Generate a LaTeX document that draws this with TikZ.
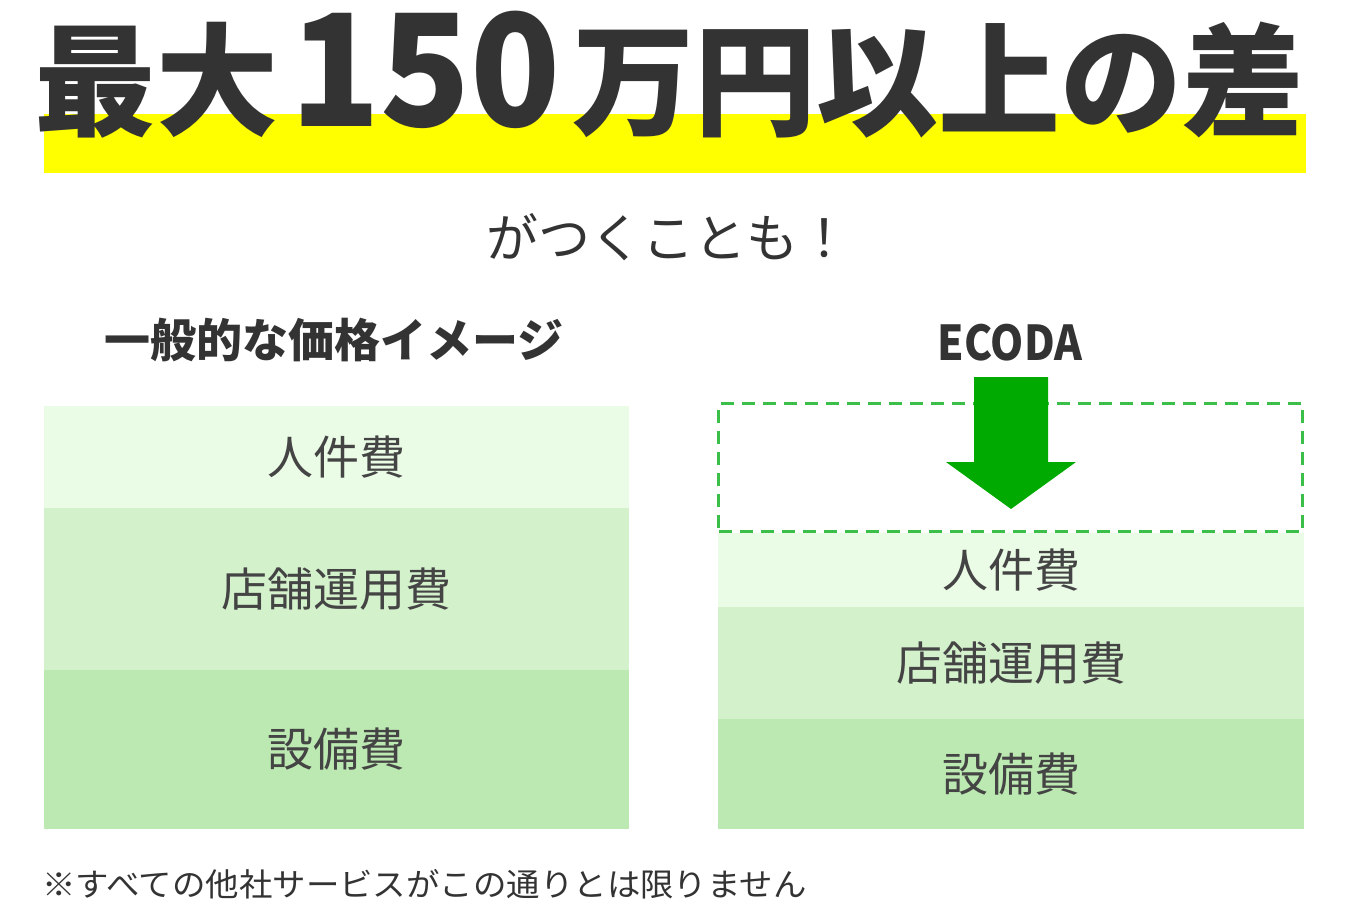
\documentclass[tikz,border=0pt]{standalone}
\usepackage{fontspec}
\setmainfont{Noto Sans CJK JP}
\definecolor{ink}{HTML}{333333}
\definecolor{boxink}{HTML}{444444}
\definecolor{hl}{HTML}{FFFF00}
\definecolor{gA}{HTML}{EBFCE6}
\definecolor{gB}{HTML}{D3F2CC}
\definecolor{gC}{HTML}{BCE9B2}
\definecolor{arrowgreen}{HTML}{00AA00}
\definecolor{dashgreen}{HTML}{3CBF48}
\begin{document}
\begin{tikzpicture}[x=1pt,y=-1pt,
  costbox/.style={inner sep=0pt, draw=none, text=boxink, font=\fontsize{46}{46}\selectfont},
  headlabel/.style={inner sep=0pt, text=ink, font=\bfseries\fontsize{46}{46}\selectfont},
  cutbox/.style={draw=dashgreen, line width=3pt, dash pattern=on 13pt off 8pt, inner sep=0pt, fill=none}
]
\useasboundingbox (0,0) rectangle (1346,918);
\fill[white] (0,0) rectangle (1346,918);
% highlight bar
\fill[hl] (44,114) rectangle (1306,173);
% title
\node[anchor=base west, inner sep=0pt, text=ink, font=\bfseries] (title) at (34,126)
  {\fontsize{122}{122}\selectfont 最大\kern12pt\scalebox{0.95}[1]{\fontsize{156}{156}\selectfont 150}\kern12pt\fontsize{122}{122}\selectfont 万円以上の差};
\node[inner sep=0pt, text=ink, font=\fontsize{52}{52}\selectfont] (sub) at (668,237) {がつくことも！};
% column heads
\node[headlabel] (genhead) at (334,340) {一般的な価格イメージ};
\node[headlabel, font=\bfseries\fontsize{48}{48}\selectfont] (ecohead) at (1010,343) {\scalebox{0.88}[1]{ECODA}};
% left column
\node[costbox, fill=gA, minimum width=585pt, minimum height=102pt] (l1) at (336.5,457) {人件費};
\node[costbox, fill=gB, minimum width=585pt, minimum height=162pt] (l2) at (336.5,589) {店舗運用費};
\node[costbox, fill=gC, minimum width=585pt, minimum height=159pt] (l3) at (336.5,749.5) {設備費};
% right column
\node[costbox, fill=gA, minimum width=586pt, minimum height=74pt] (r1) at (1011,570) {人件費};
\node[costbox, fill=gB, minimum width=586pt, minimum height=112pt] (r2) at (1011,663) {店舗運用費};
\node[costbox, fill=gC, minimum width=586pt, minimum height=110pt] (r3) at (1011,774) {設備費};
% removed portion
\node[cutbox, minimum width=584pt, minimum height=128pt] (cut) at (1010.5,467.5) {};
% arrow
\fill[arrowgreen] (974,377) -- (1048,377) -- (1048,462) -- (1076,462) -- (1011,509)
  -- (946,462) -- (974,462) -- cycle;
% footnote
\node[anchor=west, inner sep=0pt, text=ink, font=\fontsize{32}{32}\selectfont] (note) at (42,884)
  {\scalebox{1.045}[1]{※すべての他社サービスがこの通りとは限りません}};
\end{tikzpicture}
\end{document}
